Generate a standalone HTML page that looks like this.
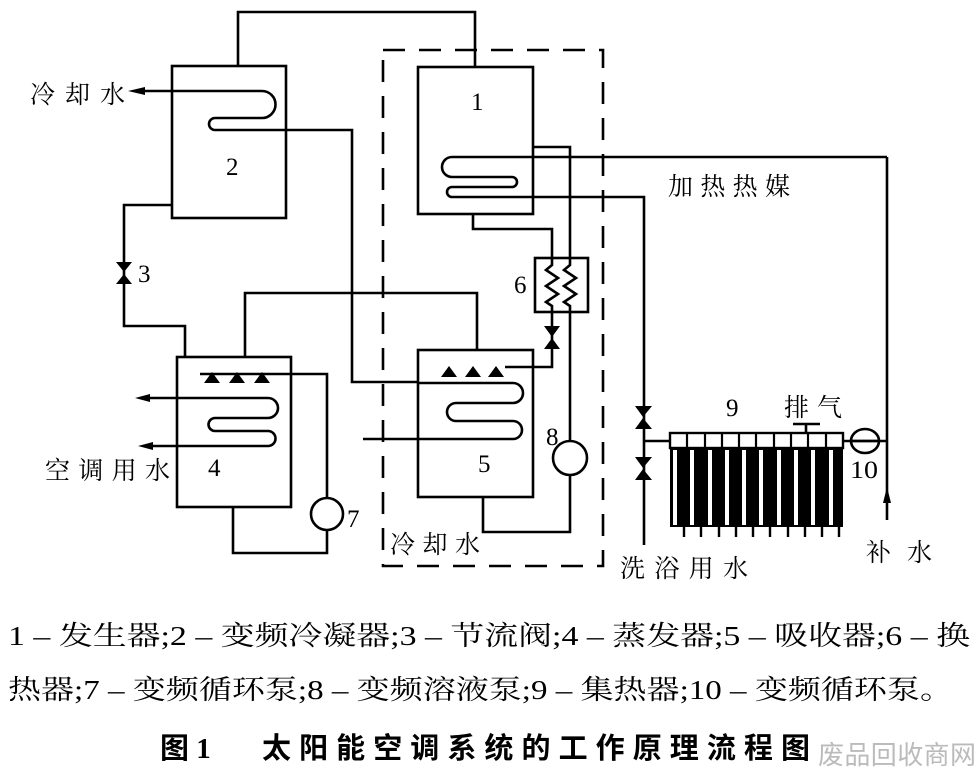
<!DOCTYPE html>
<html><head><meta charset="utf-8"><style>
html,body{margin:0;padding:0;background:#fff;}
svg{display:block;}
.cj{font-family:"Liberation Serif","Noto Serif CJK SC",serif;fill:#000;}
.nm{font-family:"Liberation Serif",serif;fill:#000;}
</style></head><body>
<svg width="979" height="770" viewBox="0 0 979 770" xmlns="http://www.w3.org/2000/svg">
<g fill="none" stroke="#000" stroke-width="2.6">
<rect x="383" y="50" width="220" height="516" stroke-dasharray="22,14"/>
<polyline points="238,66 238,12 475,12 475,67"/>
<rect x="172" y="66" width="114" height="152"/>
<path d="M145,91 H262 A13.5,13.5 0 0 1 262,118 H215 A6,6 0 0 0 215,130 H352 V382 H418"/>
<polyline points="172,205 124,205 124,326 185,326 185,357"/>
<rect x="177" y="357" width="114" height="150"/>
<path d="M145,398 H268 A10,10 0 0 1 268,418 H215 A6.5,6.5 0 0 0 215,431 H268 A7.5,7.5 0 0 1 268,446 H148"/>
<polyline points="200,374 327,374 327,497"/>
<polyline points="327,531 327,553 233,553 233,507"/>
<circle cx="327" cy="514" r="16"/>
<polyline points="245,357 245,293 477,293 477,350"/>
<rect x="418" y="67" width="115" height="147"/>
<path d="M887,157 H452 A10,10 0 0 0 452,177 H512 A5,5 0 0 1 512,187 H452 A5,5 0 0 0 452,197 H644 V545"/>
<polyline points="887,157 887,520"/>
<polyline points="473,214 473,229 552,229 552,258"/>
<polyline points="533,147 570,147 570,258"/>
<rect x="535" y="258" width="53" height="54"/>
<polyline points="552,258 552,265 546,270 558,278 546,286 558,294 546,302 552,306 552,312"/>
<polyline points="570,258 570,265 564,270 576,278 564,286 576,294 564,302 570,306 570,312"/>
<polyline points="552,312 552,367 505,367"/>
<polyline points="570,312 570,441"/>
<polyline points="570,475 570,532 483,532 483,497"/>
<circle cx="570" cy="458" r="17"/>
<rect x="418" y="350" width="115" height="147"/>
<path d="M418,383 H513 A10,10 0 0 1 513,403 H456 A9,9 0 0 0 456,421 H513 A9,9 0 0 1 513,439 H363"/>
<polyline points="644,441 670,441"/>
<polyline points="843,441 887,441"/>
<ellipse cx="865" cy="441" rx="14" ry="12"/>
<line x1="851" y1="441" x2="879" y2="441"/>
<line x1="806" y1="433" x2="806" y2="424"/>
<line x1="793" y1="424" x2="820" y2="424"/>
</g>
<rect x="670" y="448" width="173" height="79" fill="#000"/>
<g fill="#fff" stroke="#000" stroke-width="2.4">
<rect x="670" y="433" width="173" height="15"/>
</g>
<g stroke="#000" stroke-width="2.2">
<line x1="687" y1="433" x2="687" y2="448"/><line x1="705" y1="433" x2="705" y2="448"/><line x1="722" y1="433" x2="722" y2="448"/><line x1="739" y1="433" x2="739" y2="448"/><line x1="756" y1="433" x2="756" y2="448"/><line x1="774" y1="433" x2="774" y2="448"/><line x1="791" y1="433" x2="791" y2="448"/><line x1="808" y1="433" x2="808" y2="448"/><line x1="826" y1="433" x2="826" y2="448"/>
</g>
<g fill="#fff">
<rect x="673" y="450" width="4" height="75"/><rect x="690" y="450" width="4" height="75"/><rect x="708" y="450" width="4" height="75"/><rect x="725" y="450" width="4" height="75"/><rect x="742" y="450" width="4" height="75"/><rect x="759" y="450" width="4" height="75"/><rect x="777" y="450" width="4" height="75"/><rect x="794" y="450" width="4" height="75"/><rect x="811" y="450" width="4" height="75"/><rect x="829" y="450" width="4" height="75"/>
</g>
<g stroke="#000" stroke-width="2.4">
<line x1="684" y1="527" x2="684" y2="537"/><line x1="701" y1="527" x2="701" y2="537"/><line x1="719" y1="527" x2="719" y2="537"/><line x1="736" y1="527" x2="736" y2="537"/><line x1="753" y1="527" x2="753" y2="537"/><line x1="770" y1="527" x2="770" y2="537"/><line x1="788" y1="527" x2="788" y2="537"/><line x1="805" y1="527" x2="805" y2="537"/><line x1="822" y1="527" x2="822" y2="537"/><line x1="839" y1="527" x2="839" y2="537"/>
</g>
<g fill="#000" stroke="none">
<path d="M116,262 H132 L124,272 Z M116,284 H132 L124,274 Z"/>
<path d="M544,326 H560 L552,337 Z M544,349 H560 L552,338 Z"/>
<path d="M635,406 H652 L643,417 Z M635,429 H652 L643,418 Z"/>
<path d="M635,457 H652 L643,468 Z M635,480 H652 L643,469 Z"/>
<path d="M204,383 L212,372 L220,383 Z M229,383 L237,372 L245,383 Z M254,383 L262,372 L270,383 Z"/>
<path d="M441,377 L449,366 L457,377 Z M465,377 L473,366 L481,377 Z M488,377 L496,366 L504,377 Z"/>
<path d="M128,91 L145,87 L145,95 Z"/>
<path d="M135,398 L150,394 L150,402 Z"/>
<path d="M138,446 L153,442 L153,450 Z"/>
<path d="M887,487 L883,503 L891,503 Z"/>
</g>
<g class="nm" font-size="25">
<text x="471" y="110">1</text>
<text x="226" y="175">2</text>
<text x="138" y="282">3</text>
<text x="208" y="476">4</text>
<text x="478" y="472">5</text>
<text x="514" y="293">6</text>
<text x="347" y="527">7</text>
<text x="546" y="445">8</text>
<text x="726" y="416">9</text>
<text x="850" y="478" textLength="28" lengthAdjust="spacingAndGlyphs">10</text>
</g>
<g class="cj" font-size="25">
<text x="30" y="103" textLength="95" lengthAdjust="spacing">冷却水</text>
<text x="45" y="479" textLength="125" lengthAdjust="spacing">空调用水</text>
<text x="390" y="553" textLength="90" lengthAdjust="spacing">冷却水</text>
<text x="668" y="195" textLength="122" lengthAdjust="spacing">加热热媒</text>
<text x="784" y="416" textLength="58" lengthAdjust="spacing">排气</text>
<text x="620" y="577" textLength="128" lengthAdjust="spacing">洗浴用水</text>
<text x="866" y="561" textLength="66" lengthAdjust="spacing">补水</text>
<text x="8" y="645" font-size="27" textLength="962" lengthAdjust="spacingAndGlyphs">1 – 发生器;2 – 变频冷凝器;3 – 节流阀;4 – 蒸发器;5 – 吸收器;6 – 换</text>
<text x="8" y="699" font-size="27" textLength="945" lengthAdjust="spacingAndGlyphs">热器;7 – 变频循环泵;8 – 变频溶液泵;9 – 集热器;10 – 变频循环泵。</text>
</g>
<text x="160" y="758" font-family="'Liberation Serif','Noto Sans CJK SC',sans-serif" font-size="29" font-weight="bold" fill="#000">图 1</text>
<text x="262" y="758" font-family="'Liberation Sans','Noto Sans CJK SC',sans-serif" font-size="29" font-weight="bold" fill="#000" textLength="548" lengthAdjust="spacing">太阳能空调系统的工作原理流程图</text>
<text x="818" y="764" font-family="'Liberation Sans','Noto Sans CJK SC',sans-serif" font-size="26" fill="#bbb" textLength="158" lengthAdjust="spacing">废品回收商网</text>
</svg>
</body></html>
